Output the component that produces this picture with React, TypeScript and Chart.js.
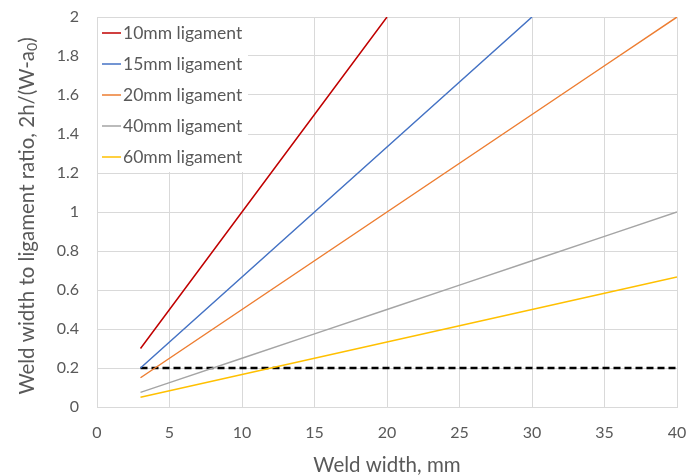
import React, { useEffect, useRef } from "react";
import { Chart, registerables } from "chart.js";

Chart.register(...registerables);

const weldWidth = [3, 5, 10, 15, 20, 25, 30, 35, 40];
const lig10 = [0.3, 0.5, 1.0, 1.5, 2.0];
const lig15 = [0.2, 0.333, 0.667, 1.0, 1.333, 1.667, 2.0];
const lig20 = [0.15, 0.25, 0.5, 0.75, 1.0, 1.25, 1.5, 1.75, 2.0];
const lig40 = [0.075, 0.125, 0.25, 0.375, 0.5, 0.625, 0.75, 0.875, 1.0];
const lig60 = [0.05, 0.083, 0.167, 0.25, 0.333, 0.417, 0.5, 0.583, 0.667];
const thresholdX = [3, 40];
const thresholdY = [0.2, 0.2];

const seriesNames = ["10mm ligament", "15mm ligament", "20mm ligament", "40mm ligament", "60mm ligament"];
const seriesValues = [lig10, lig15, lig20, lig40, lig60];
const seriesColors = ["#C00000", "#4472C4", "#ED7D31", "#A5A5A5", "#FFC000"];

const xTitle = "Weld width, mm";
const yTitleMain = "Weld width to ligament ratio, 2h/(W-a";
const yTitleSub = "0";
const yTitleEnd = ")";

const FONT = "Lato, 'Open Sans', sans-serif";

const overlayPlugin = {
  id: "overlay",
  afterDraw(chart: any) {
    const ctx = chart.ctx;
    const area = chart.chartArea;
    ctx.save();
    // legend box
    const bx = area.left + 1;
    const by = area.top + 1;
    ctx.fillStyle = "#FFFFFF";
    ctx.fillRect(bx, by, 150, 154);
    ctx.font = `17.5px ${FONT}`;
    ctx.textBaseline = "middle";
    ctx.textAlign = "left";
    seriesNames.forEach((name, i) => {
      const cy = area.top + 16 + i * 31;
      ctx.strokeStyle = seriesColors[i];
      ctx.lineWidth = 1.5;
      ctx.beginPath();
      ctx.moveTo(area.left + 5, cy);
      ctx.lineTo(area.left + 24, cy);
      ctx.stroke();
      ctx.fillStyle = "#595959";
      ctx.fillText(name, area.left + 26, cy);
    });
    // x title
    ctx.font = `20.5px ${FONT}`;
    ctx.textAlign = "center";
    ctx.fillStyle = "#595959";
    ctx.fillText(xTitle, (area.left + area.right) / 2, 465);
    // y title
    ctx.translate(27, 216);
    ctx.rotate(-Math.PI / 2);
    ctx.font = `20.5px ${FONT}`;
    const w1 = ctx.measureText(yTitleMain).width;
    ctx.font = `14px ${FONT}`;
    const w2 = ctx.measureText(yTitleSub).width;
    ctx.font = `20.5px ${FONT}`;
    const w3 = ctx.measureText(yTitleEnd).width;
    let x = -(w1 + w2 + w3) / 2;
    ctx.textAlign = "left";
    ctx.fillText(yTitleMain, x, 0);
    x += w1;
    ctx.font = `14px ${FONT}`;
    ctx.fillText(yTitleSub, x, 5);
    x += w2;
    ctx.font = `20.5px ${FONT}`;
    ctx.fillText(yTitleEnd, x, 0);
    ctx.restore();
  },
};

export default function App() {
  const ref = useRef<HTMLCanvasElement>(null);
  useEffect(() => {
    document.body.style.margin = "0";
    const datasets: any[] = seriesNames.map((name, i) => ({
      label: name,
      data: seriesValues[i].map((v, j) => ({ x: weldWidth[j], y: v })),
      borderColor: seriesColors[i],
      backgroundColor: seriesColors[i],
      borderWidth: 1.5,
      pointRadius: 0,
      fill: false,
      tension: 0,
    }));
    datasets.push({
      label: "threshold",
      data: thresholdX.map((x, j) => ({ x, y: thresholdY[j] })),
      borderColor: "#000000",
      borderWidth: 2.5,
      borderDash: [7, 4],
      pointRadius: 0,
      fill: false,
    });
    const chart = new Chart(ref.current!, {
      type: "line",
      data: { datasets },
      plugins: [overlayPlugin],
      options: {
        animation: false,
        responsive: false,
        devicePixelRatio: 1,
        layout: { padding: { top: 17, right: 22, left: 0, bottom: 0 } },
        plugins: { legend: { display: false }, tooltip: { enabled: false } },
        scales: {
          x: {
            type: "linear",
            min: 0,
            max: 40,
            ticks: { stepSize: 5, color: "#595959", font: { family: FONT, size: 16 }, padding: 16, maxRotation: 0 },
            grid: { color: "#D9D9D9", drawTicks: false, lineWidth: 1 },
            border: { color: "#D9D9D9" },
            afterFit: (s: any) => {
              s.height = 69;
              s.paddingLeft = 0;
              s.paddingRight = 0;
            },
          },
          y: {
            min: 0,
            max: 2,
            ticks: {
              stepSize: 0.2,
              color: "#595959",
              font: { family: FONT, size: 16 },
              padding: 18,
              callback: (v: any) => String(Number(Number(v).toFixed(1))),
            },
            grid: { color: "#D9D9D9", drawTicks: false, lineWidth: 1 },
            border: { color: "#D9D9D9" },
            afterFit: (s: any) => {
              s.width = 97;
              s.paddingTop = 0;
              s.paddingBottom = 0;
            },
          },
        },
      },
    });
    return () => chart.destroy();
  }, []);
  return (
    <div style={{ position: "absolute", left: 0, top: 0, width: 699, height: 476 }}>
      <canvas ref={ref} width={699} height={476} />
    </div>
  );
}
